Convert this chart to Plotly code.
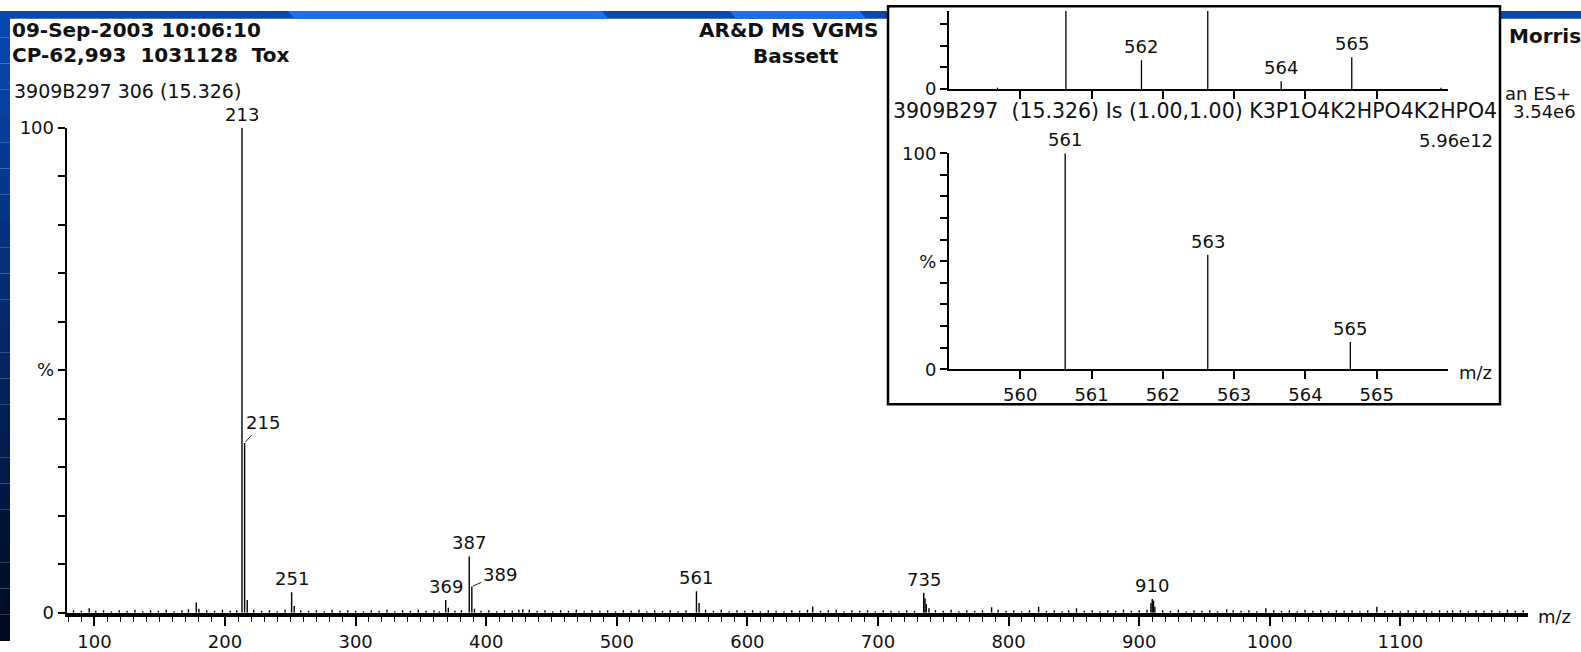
import plotly.graph_objects as go

W, H = 1581, 652

# ---------------- data ----------------
main_peak_mz = [213, 215, 251, 369, 387, 389, 561, 735, 910]
main_peak_int = [100, 35.0, 4.2, 2.6, 11.6, 5.4, 4.4, 4.1, 2.8]
main_peak_lbl = ["213", "215", "251", "369", "387", "389", "561", "735", "910"]

minor_mz = [178, 180, 217, 253, 371, 391, 425, 563, 650, 736, 737, 739, 787, 823,
            852, 909, 911, 912, 967, 997, 1082, 1140]
minor_int = [2.1, 0.8, 2.6, 1.4, 1.0, 0.8, 0.6, 2.0, 1.3, 3.0, 1.8, 0.9, 1.1, 1.2,
             0.9, 2.0, 2.5, 1.2, 0.7, 0.9, 1.2, 0.5]

noise_mz = [84, 90, 96, 101, 107, 113, 119, 125, 131, 137, 143, 149, 155, 161, 167, 172,
            186, 192, 198, 204, 209, 222, 228, 234, 240, 246, 258, 264, 270, 276, 282,
            288, 294, 300, 306, 312, 318, 324, 330, 336, 342, 348, 354, 360, 364, 376,
            381, 396, 402, 408, 414, 420, 428, 433, 439, 445, 451, 457, 463, 469, 475,
            481, 487, 493, 499, 505, 511, 517, 523, 529, 535, 541, 547, 553, 568, 574,
            580, 586, 592, 598, 604, 610, 616, 622, 628, 634, 640, 646, 656, 662, 668,
            674, 680, 686, 692, 698, 704, 710, 716, 722, 728, 744, 750, 756, 762, 768,
            774, 780, 792, 798, 804, 810, 816, 829, 835, 841, 846, 858, 864, 870, 876,
            882, 888, 894, 900, 906, 918, 924, 930, 936, 942, 948, 954, 960, 972, 978,
            984, 990, 1003, 1009, 1015, 1021, 1027, 1033, 1039, 1045, 1051, 1057, 1063,
            1069, 1075, 1088, 1094, 1100, 1106, 1112, 1118, 1124, 1130, 1136, 1146, 1152,
            1158, 1164, 1170, 1176, 1182, 1188, 1194]
noise_int = [0.5, 0.4, 0.9, 0.4, 0.5, 0.3, 0.5, 0.4, 0.6, 0.3, 0.5, 0.4, 0.6, 0.3, 0.5, 0.7,
             0.5, 0.4, 0.6, 0.4, 0.5, 0.6, 0.4, 0.5, 0.3, 0.6, 0.5, 0.4, 0.5, 0.3, 0.6,
             0.4, 0.5, 0.4, 0.3, 0.5, 0.4, 0.6, 0.3, 0.5, 0.4, 0.6, 0.4, 0.5, 0.3, 0.4,
             0.5, 0.4, 0.5, 0.3, 0.5, 0.4, 0.7, 0.6, 0.4, 0.5, 0.3, 0.5, 0.4, 0.6, 0.3,
             0.5, 0.4, 0.5, 0.3, 0.5, 0.4, 0.6, 0.3, 0.5, 0.4, 0.5, 0.3, 0.5, 0.6, 0.4,
             0.6, 0.3, 0.5, 0.4, 0.5, 0.3, 0.5, 0.4, 0.3, 0.5, 0.4, 0.6, 0.4, 0.5, 0.6,
             0.3, 0.5, 0.4, 0.5, 0.3, 0.5, 0.4, 0.3, 0.5, 0.4, 0.5, 0.4, 0.6, 0.3, 0.5,
             0.4, 0.5, 0.6, 0.4, 0.5, 0.3, 0.5, 0.4, 0.5, 0.3, 0.5, 0.4, 0.5, 0.3, 0.5,
             0.4, 0.6, 0.4, 0.5, 0.6, 0.5, 0.4, 0.6, 0.3, 0.5, 0.4, 0.5, 0.3, 0.5, 0.4,
             0.5, 0.3, 0.5, 0.4, 0.5, 0.3, 0.6, 0.4, 0.5, 0.3, 0.5, 0.4, 0.5,
             0.3, 0.5, 0.4, 0.5, 0.3, 0.5, 0.4, 0.5, 0.3, 0.5, 0.4, 0.5, 0.3,
             0.5, 0.4, 0.5, 0.3, 0.6, 0.4, 0.5]

inset_upper_mz = [559.68, 560.64, 561.70, 562.63, 563.66, 564.65, 565.90]
inset_upper_int = [0.6, 100, 13.3, 53, 3.6, 14.7, 0.6]
inset_upper_lbl = ["", "561", "562", "563", "564", "565", ""]

inset_lower_mz = [560.63, 562.63, 564.63]
inset_lower_int = [100, 53, 12.6]
inset_lower_lbl = ["561", "563", "565"]

inset_ticks = [560, 561, 562, 563, 564, 565]

FONT = "DejaVu Sans"
INK = "#111111"


def px_x(px):
    return px / W


def px_y(py):
    return 1 - py / H


def sticks(xs, ys):
    X, Y = [], []
    for x, y in zip(xs, ys):
        X += [x, x, None]
        Y += [0, y, None]
    return X, Y


fig = go.Figure()

mx, my = sticks(noise_mz + minor_mz + main_peak_mz, noise_int + minor_int + main_peak_int)
fig.add_trace(go.Scatter(x=mx, y=my, mode="lines", line=dict(color="black", width=1.4),
                         xaxis="x", yaxis="y", hoverinfo="skip", showlegend=False))
ux, uy = sticks(inset_upper_mz, inset_upper_int)
fig.add_trace(go.Scatter(x=ux, y=uy, mode="lines", line=dict(color="black", width=1.3),
                         xaxis="x2", yaxis="y2", hoverinfo="skip", showlegend=False))
lx, ly = sticks(inset_lower_mz, inset_lower_int)
fig.add_trace(go.Scatter(x=lx, y=ly, mode="lines", line=dict(color="black", width=1.3),
                         xaxis="x3", yaxis="y3", hoverinfo="skip", showlegend=False))

tickfont = dict(family=FONT, size=18, color=INK)
common = dict(showgrid=False, zeroline=False, showline=True, linecolor="black",
              ticks="outside", tickcolor="black", tickfont=tickfont, fixedrange=True)

layout = dict(
    width=W, height=H, autosize=False,
    margin=dict(l=0, r=0, t=0, b=0),
    paper_bgcolor="white", plot_bgcolor="rgba(0,0,0,0)",
    showlegend=False,
    xaxis=dict(domain=[px_x(66.6), px_x(1527.7)], range=[78.7, 1197.5], anchor="y",
               linewidth=3.5, tickmode="linear", tick0=0, dtick=100, ticklen=10, tickwidth=1.5,
               minor=dict(tickmode="linear", tick0=0, dtick=10, ticks="outside", ticklen=6,
                          tickwidth=1.2, tickcolor="black"), **common),
    yaxis=dict(domain=[px_y(622.7), px_y(120.7)], range=[0, 100], anchor="x",
               linewidth=2, tickmode="array", tickvals=[0, 50, 100], ticktext=["0", "%", "100"],
               ticklen=7, tickwidth=1.5,
               minor=dict(tickmode="linear", tick0=0, dtick=10, ticks="outside", ticklen=7,
                          tickwidth=1.5, tickcolor="black"), **common),
    xaxis2=dict(domain=[px_x(949), px_x(1448)], range=[559, 566], anchor="y2",
                linewidth=2, tickmode="array", tickvals=inset_ticks, showticklabels=False,
                ticklen=8, tickwidth=1.5, **common),
    yaxis2=dict(domain=[px_y(80.7), 1.0], range=[0, 36.1], anchor="x2",
                linewidth=2, tickmode="array", tickvals=[0], ticktext=["0"], ticklen=7,
                tickwidth=1.5,
                minor=dict(tickmode="linear", tick0=0, dtick=10, ticks="outside", ticklen=7,
                           tickwidth=1.5, tickcolor="black"), **common),
    xaxis3=dict(domain=[px_x(949), px_x(1448)], range=[559, 566], anchor="y3",
                linewidth=2, tickmode="array", tickvals=inset_ticks,
                ticktext=[str(t) for t in inset_ticks], ticklen=8, tickwidth=1.5, **common),
    yaxis3=dict(domain=[px_y(370.8), px_y(147.2)], range=[0, 100], anchor="x3",
                linewidth=2, tickmode="array", tickvals=[0, 50, 100], ticktext=["0", "%", "100"],
                ticklen=7, tickwidth=1.5,
                minor=dict(tickmode="linear", tick0=0, dtick=10, ticks="outside", ticklen=7,
                           tickwidth=1.5, tickcolor="black"), **common),
)

# ---------------- background shapes (slide frame) ----------------
shapes = []
top_c = (8, 72, 178)
bot_c = (0, 10, 34)
n = 24
for i in range(n):
    t = i / (n - 1)
    c = tuple(int(round(top_c[k] + (bot_c[k] - top_c[k]) * t)) for k in range(3))
    shapes.append(dict(type="rect", xref="paper", yref="paper", layer="below",
                       x0=px_x(0), x1=px_x(10), y0=px_y(H * (i + 1) / n), y1=px_y(H * i / n),
                       fillcolor="rgb(%d,%d,%d)" % c, line=dict(width=0)))
shapes.append(dict(type="rect", xref="paper", yref="paper", layer="below",
                   x0=0, x1=px_x(890), y0=px_y(8), y1=1, fillcolor="#0848b0", line=dict(width=0)))
shapes.append(dict(type="rect", xref="paper", yref="paper", layer="below",
                   x0=px_x(1498), x1=1, y0=px_y(8), y1=1, fillcolor="#0848b0", line=dict(width=0)))
for a, b in [(288, 602), (730, 860)]:
    shapes.append(dict(type="path", xref="paper", yref="paper", layer="below",
                       path="M %f %f L %f %f L %f %f L %f %f Z" % (
                           px_x(a), px_y(0), px_x(b), px_y(0), px_x(b + 6), px_y(8), px_x(a + 6), px_y(8)),
                       fillcolor="#1e6ef0", line=dict(width=0)))
# inset frame
shapes.append(dict(type="rect", xref="paper", yref="paper", layer="below",
                   x0=px_x(888), x1=px_x(1500), y0=px_y(407), y1=px_y(-5),
                   fillcolor="white", line=dict(color="black", width=2.5)))
layout["shapes"] = shapes

# ---------------- annotations ----------------
ann = []


def ptext(txt, x, y, size=19, bold=False, xanchor="left"):
    ann.append(dict(text=("<b>%s</b>" % txt) if bold else txt, x=px_x(x), y=px_y(y),
                    xref="paper", yref="paper", xanchor=xanchor, yanchor="middle",
                    showarrow=False, font=dict(family=FONT, size=size, color=INK)))


ptext("09-Sep-2003 10:06:10", 10, 20, 20, True)
ptext("CP-62,993\u00a0\u00a01031128\u00a0\u00a0Tox", 10, 46, 20, True)
ptext("AR&amp;D MS VGMS", 880, 20, 20, True, "right")
ptext("Bassett", 796, 47, 20, True, "center")
ptext("3909B297 306 (15.326)", 12, 83, 19)
ptext("Morris", 1507, 26, 20, True)
ptext("an ES+", 1503, 85, 18)
ptext("3.54e6", 1511, 104, 18)
ptext("3909B297\u00a0\u00a0(15.326) Is (1.00,1.00) K3P1O4K2HPO4K2HPO4", 891, 104, 20.5)
ptext("5.96e12", 1495, 134, 18, False, "right")
ptext("m/z", 1536, 627, 18)
ptext("m/z", 1457, 374, 18)

arrow_lbl = {"215": (18, -20), "389": (28, -12)}
for mz, h, lbl in zip(main_peak_mz, main_peak_int, main_peak_lbl):
    if lbl in arrow_lbl:
        ax, ay = arrow_lbl[lbl]
        ann.append(dict(text=lbl, x=mz, y=h, xref="x", yref="y", showarrow=True,
                        arrowhead=0, arrowwidth=1, arrowcolor="#222", ax=ax, ay=ay,
                        standoff=1, font=dict(family=FONT, size=18, color=INK)))
    else:
        ann.append(dict(text=lbl, x=mz, y=h, xref="x", yref="y", showarrow=False,
                        yanchor="bottom", yshift=1, font=dict(family=FONT, size=18, color=INK)))

for mz, h, lbl in zip(inset_upper_mz, inset_upper_int, inset_upper_lbl):
    if lbl and h < 36:
        ann.append(dict(text=lbl, x=mz, y=h, xref="x2", yref="y2", showarrow=False,
                        yanchor="bottom", yshift=1, font=dict(family=FONT, size=18, color=INK)))
for mz, h, lbl in zip(inset_lower_mz, inset_lower_int, inset_lower_lbl):
    ann.append(dict(text=lbl, x=mz, y=h, xref="x3", yref="y3", showarrow=False,
                    yanchor="bottom", yshift=1, font=dict(family=FONT, size=18, color=INK)))

layout["annotations"] = ann
fig.update_layout(**layout)

post = (
    "var gd=document.getElementById('{plot_id}');"
    "document.documentElement.style.cssText='margin:0;padding:0;overflow:hidden;height:652px;background:white;';"
    "document.body.style.cssText='margin:0;padding:0;overflow:hidden;height:652px;background:white;';"
    "gd.style.position='fixed';gd.style.left='0px';gd.style.top='0px';"
)
fig.write_html("out.html", config={"displayModeBar": False}, post_script=post)
